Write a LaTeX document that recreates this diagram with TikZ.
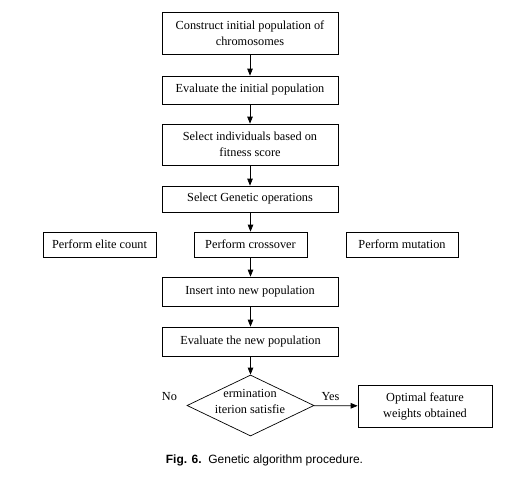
\documentclass[tikz,border=0pt]{standalone}
\usepackage{fontspec}
\setmainfont{Liberation Serif}
\newfontfamily\capfont{Liberation Sans}
\usetikzlibrary{arrows.meta,shapes.geometric}
\begin{document}
\begin{tikzpicture}[x=1pt,y=-1pt,
  box/.style={draw,line width=0.7pt,inner sep=0pt,align=center,
    font=\fontsize{12.3}{16}\selectfont},
  arr/.style={line width=0.7pt,-{Triangle[length=7pt,width=5.5pt]}},
  lbl/.style={font=\fontsize{12.3}{16}\selectfont,inner sep=0pt}]
\useasboundingbox (0,0) rectangle (526,487);
\node[box,minimum width=176pt,minimum height=42pt] (b1) at (250,33) {Construct initial population of\\chromosomes};
\node[box,minimum width=176pt,minimum height=28pt] (b2) at (250,90) {Evaluate the initial population};
\node[box,minimum width=176pt,minimum height=41pt] (b3) at (250,144.5) {Select individuals based on\\fitness score};
\node[box,minimum width=176pt,minimum height=26pt] (b4) at (250,199) {Select Genetic operations};
\node[box,minimum width=113pt,minimum height=25pt] (elite) at (99.5,244.5) {Perform elite count};
\node[box,minimum width=113pt,minimum height=25pt] (cross) at (250.5,244.5) {Perform crossover};
\node[box,minimum width=112pt,minimum height=25pt] (mut) at (402,244.5) {Perform mutation};
\node[box,minimum width=176pt,minimum height=29pt] (ins) at (250,291.5) {Insert into new population};
\node[box,minimum width=176pt,minimum height=29pt] (evn) at (250.5,341.5) {Evaluate the new population};
\node[draw,line width=0.7pt,diamond,inner sep=0pt,minimum width=127pt,minimum height=61pt] (dec) at (250.5,405.5) {};
\node[lbl,align=center] (dect) at (250,401.5) {ermination\\iterion satisfie};
\node[box,minimum width=134pt,minimum height=42pt] (opt) at (425,406) {Optimal feature\\weights obtained};
\node[lbl] (no) at (169.5,397) {No};
\node[lbl] (yes) at (330.5,397) {Yes};
\node[inner sep=0pt,font=\capfont\fontsize{12}{14}\selectfont] (cap) at (264.5,460) {\textbf{Fig. 6.}\ \ Genetic algorithm procedure.};
\draw[arr] (b1) -- (b2);
\draw[arr] (b2) -- (b3);
\draw[arr] (b3) -- (b4);
\draw[arr] (b4.south -| cross.north) -- (cross);
\draw[arr] (cross.south) -- (cross.south |- ins.north);
\draw[arr] (ins.south -| evn.north) -- (evn);
\draw[arr] (evn) -- (dec);
\draw[arr] (dec) -- (opt);
\end{tikzpicture}
\end{document}
